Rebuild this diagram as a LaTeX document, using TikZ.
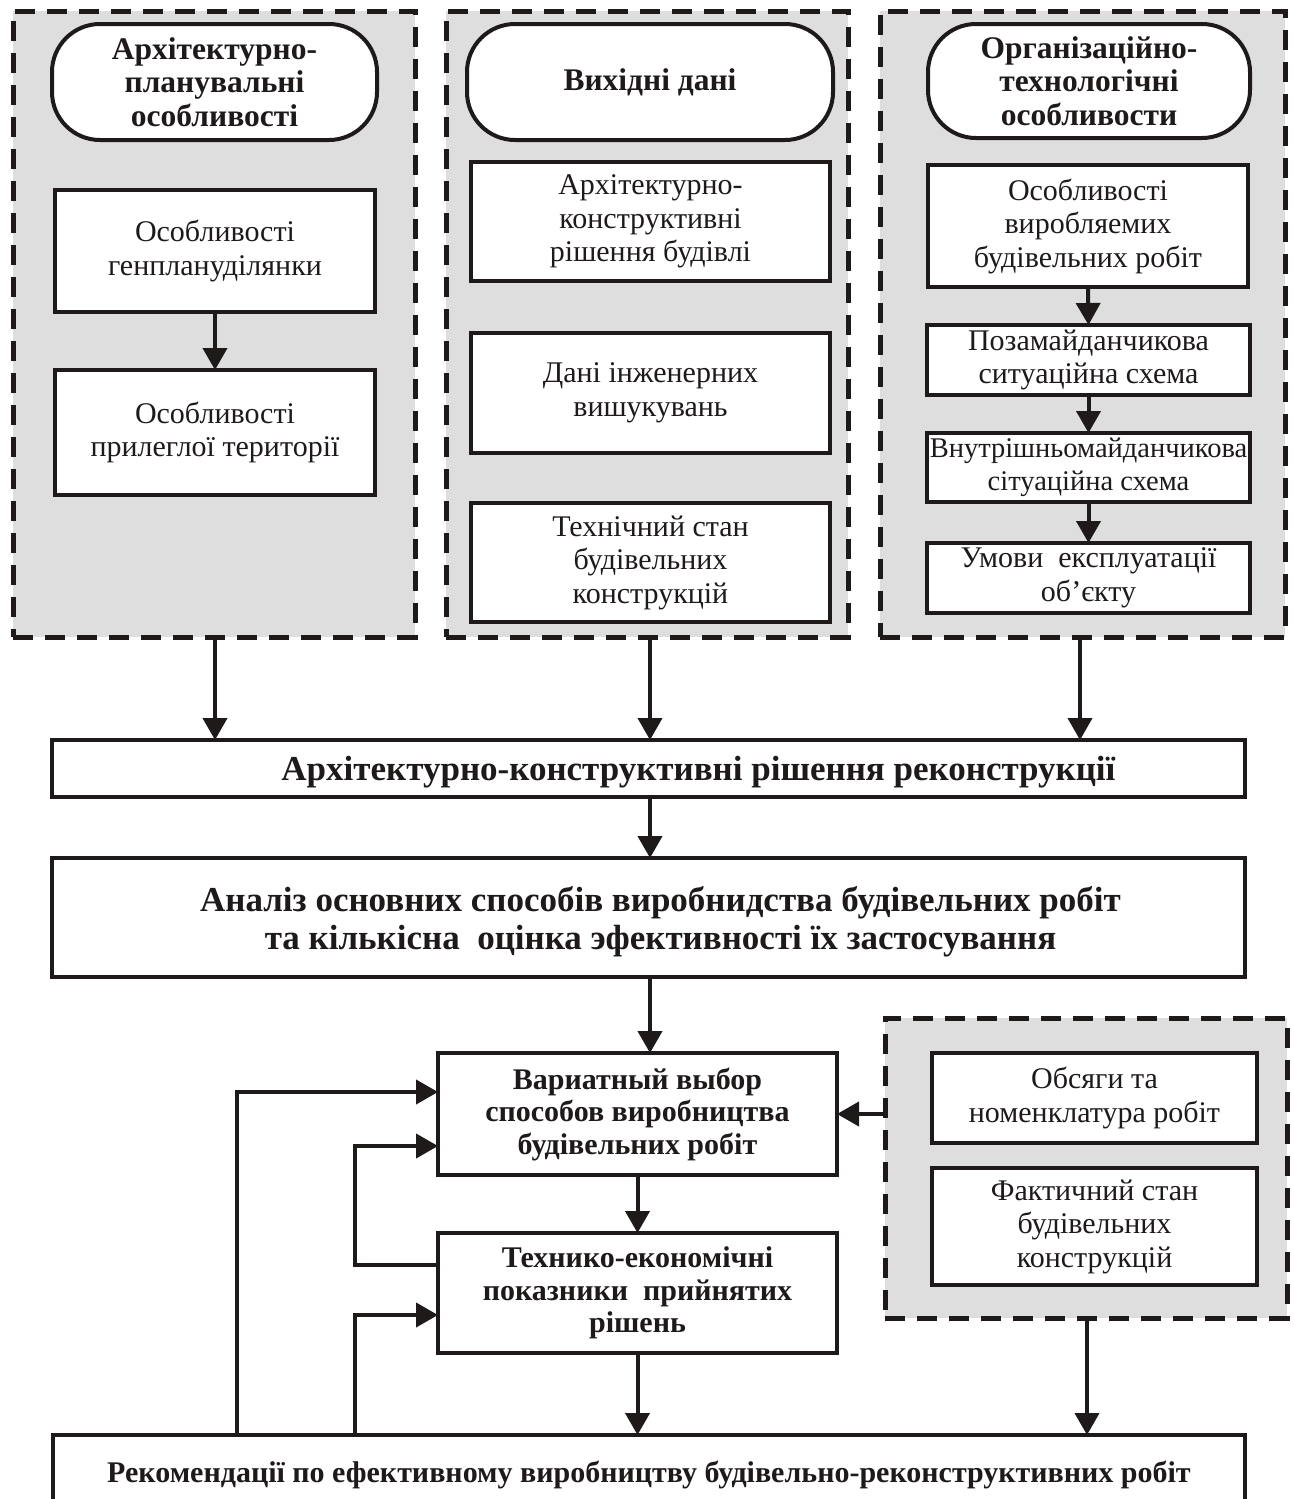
\documentclass[tikz,border=0pt]{standalone}
\usepackage{fontspec}
\setmainfont{Liberation Serif}
\usetikzlibrary{arrows.meta,calc}
\definecolor{panelgray}{RGB}{222,222,222}
\definecolor{ink}{RGB}{30,26,26}
\newcommand\freg{\fontsize{30}{33.5}\selectfont}
\newcommand\fregs{\fontsize{28.5}{33.5}\selectfont}
\newcommand\fhdr{\fontsize{31.5}{33.5}\selectfont\bfseries}
\newcommand\fbig{\fontsize{35}{38}\selectfont\bfseries}
\newcommand\fmid{\fontsize{30}{32.5}\selectfont\bfseries}
\newcommand\fbot{\fontsize{30}{32}\selectfont\bfseries}
\begin{document}
\begin{tikzpicture}[x=1pt,y=-1pt,
  box/.style={draw=ink, line width=4pt, fill=white, inner sep=0pt, outer sep=0pt, align=center, font=\freg, text=ink},
  term/.style={box, rounded corners=48pt, font=\fhdr},
  bigbox/.style={draw=ink, line width=4pt, fill=white, inner sep=0pt, outer sep=0pt, font=\fbig, text=ink},
  midbox/.style={box, font=\fmid},
  panel/.style={draw=ink, line width=5pt, dash pattern=on 20pt off 12pt, fill=panelgray, inner sep=0pt, outer sep=0pt},
  arr/.style={draw=ink, line width=4pt, -{Triangle[width=24pt,length=22pt]}},
  conn/.style={draw=ink, line width=4pt}
]
\useasboundingbox (0,0) rectangle (1293,1499);
\fill[white] (0,0) rectangle (1293,1499);
\clip (0,0) rectangle (1293,1499);

% top panels
\node[panel, minimum width=402pt, minimum height=626pt] (P1) at (214,324) {};
\node[panel, minimum width=402pt, minimum height=626pt] (P2) at (647,324) {};
\node[panel, minimum width=405pt, minimum height=626pt] (P3) at (1082.5,324) {};

% left column
\node[term, minimum width=325pt, minimum height=116pt] (T1) at (214.5,82) {Архітектурно-\\планувальні\\особливості};
\node[box, minimum width=320pt, minimum height=122pt] (L1) at (215,251) {Особливості\\генпланудiлянки};
\node[box, minimum width=320pt, minimum height=125pt] (L2) at (215,432.5) {Особливості\\прилеглої території};

% middle column
\node[term, minimum width=366pt, minimum height=116pt] (T2) at (650,82) {Вихідні дані};
\node[box, minimum width=359pt, minimum height=119pt] (M1) at (650.5,221.5) {Архітектурно-\\конструктивні\\рішення будівлі};
\node[box, minimum width=359pt, minimum height=120pt] (M2) at (650.5,393) {Дані інженерних\\вишукувань};
\node[box, minimum width=359pt, minimum height=119pt] (M3) at (650.5,562.5) {Технічний стан\\будівельних\\конструкцій};

% right column
\node[term, minimum width=322pt, minimum height=114pt] (T3) at (1089,81) {Організаційно-\\технологічні\\особливости};
\node[box, minimum width=320pt, minimum height=122pt] (R1) at (1088,226) {Особливості\\виробляемих\\будівельних робіт};
\node[box, minimum width=323pt, minimum height=70pt] (R2) at (1088.5,360) {Позамайданчикова\\ситуаційна схема};
\node[box, font=\fregs, minimum width=323pt, minimum height=69pt] (R3) at (1088.5,467.5) {Внутрішньомайданчикова\\сітуаційна схема};
\node[box, minimum width=323pt, minimum height=70pt] (R4) at (1088.5,578) {Умови\ \ експлуатації\\об’єкту};

% big boxes
\node[bigbox, minimum width=1193pt, minimum height=57pt] (B1) at (648.5,768.5) {\hspace{100pt}\raisebox{-4pt}[\height][\depth]{Архітектурно-конструктивні рішення реконструкції}};
\node[bigbox, minimum width=1193pt, minimum height=119pt] (B2) at (648.5,917.5) {\hspace{24pt}\raisebox{-5pt}[\height][\depth]{\begin{tabular}{@{}c@{}}Аналіз основних способів виробнидства будівельних робіт\\та кількісна\ \ оцінка эфективності їх застосування\end{tabular}}};

% lower middle
\node[midbox, minimum width=399pt, minimum height=122pt] (V) at (637.5,1114) {Вариатный выбор\\способов виробництва\\будівельних робіт};
\node[midbox, minimum width=399pt, minimum height=120pt] (TE) at (637.5,1293) {Технико-економічні\\показники\ \ прийнятих\\рішень};

% lower right panel
\node[panel, minimum width=402pt, minimum height=300pt] (P4) at (1086,1168) {};
\node[box, minimum width=325pt, minimum height=90pt] (O1) at (1094.5,1098) {Обсяги та\\номенклатура робіт};
\node[box, minimum width=325pt, minimum height=117pt] (O2) at (1094.5,1226.5) {Фактичний стан\\будівельних\\конструкцій};

% bottom box
\node[box, font=\fbot, minimum width=1192pt, minimum height=80pt] (REC) at (649,1475) {Рекомендації по ефективному виробництву будівельно-реконструктивних робіт};

% arrows inside panels
\draw[arr] (L1.south) -- (L2.north);
\draw[arr] (R1.south) -- (R2.north);
\draw[arr] (R2.south) -- (R3.north);
\draw[arr] (R3.south) -- (R4.north);

% panels to B1
\draw[arr] ([xshift=1pt]P1.south) -- ([xshift=1pt]P1.south |- B1.north);
\draw[arr] ([xshift=3pt]P2.south) -- ([xshift=3pt]P2.south |- B1.north);
\draw[arr] ([xshift=-2.5pt]P3.south) -- ([xshift=-2.5pt]P3.south |- B1.north);

\draw[arr] ([xshift=1.5pt]B1.south) -- ([xshift=1.5pt]B1.south |- B2.north);
\draw[arr] ([xshift=1.5pt]B2.south) -- ([xshift=1.5pt]B2.south |- V.north);
\draw[arr] (V.south) -- (TE.north);
\draw[arr] (TE.south) -- (TE.south |- REC.north);

% lower right panel connections
\coordinate (pv) at (P4.west |- V.east);
\draw[arr] (pv) -- (V.east);
\draw[arr] ([xshift=1pt]P4.south) -- ([xshift=1pt]P4.south |- REC.north);

% feedback loops
\coordinate (fa1) at (237,1435);
\coordinate (fa2) at (237,1092);
\draw[arr] (fa1) -- (fa2) -- (fa2 -| V.west);
\coordinate (fb1) at (355,1265);
\coordinate (fb2) at (355,1146);
\draw[arr] (fb1 -| TE.west) -- (fb1) -- (fb2) -- (fb2 -| V.west);
\coordinate (fc1) at (355,1435);
\coordinate (fc2) at (355,1315);
\draw[arr] (fc1) -- (fc2) -- (fc2 -| TE.west);
\end{tikzpicture}
\end{document}
